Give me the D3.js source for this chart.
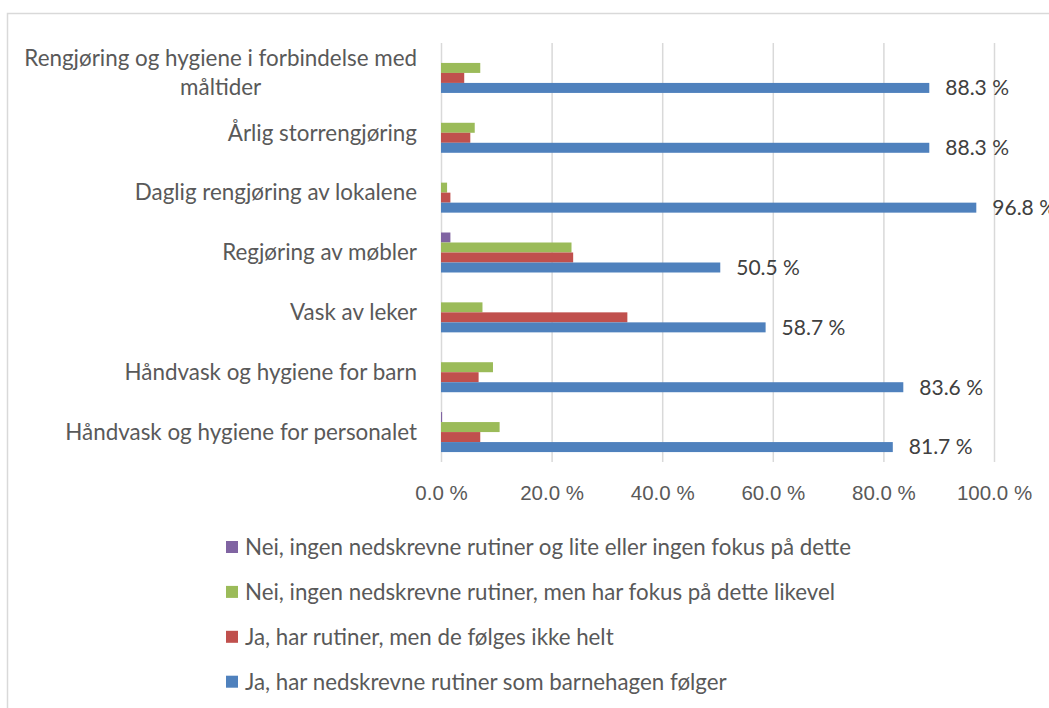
<!DOCTYPE html>
<html>
<head>
<meta charset="utf-8">
<script src="https://cdn.jsdelivr.net/npm/d3@7"></script>
<style>
  body { margin: 0; background: #fff; }
  svg { display: block; font-family: Lato, "Open Sans", sans-serif; }
  .grid line { stroke: #d9d9d9; stroke-width: 1.5; }
  .grid path { display: none; }
  .xaxis path, .xaxis line { display: none; }
  .xaxis text { fill: #595959; font-size: 20.5px; }
  .cat { fill: #595959; font-size: 22.4px; }
  .lbl { fill: #404040; font-size: 21px; }
  .legend text { fill: #595959; font-size: 22.3px; }
</style>
</head>
<body>
<svg width="1049" height="708"></svg>
<script>
var categories = [
  ["Rengjøring og hygiene i forbindelse med", "måltider"],
  ["Årlig storrengjøring"],
  ["Daglig rengjøring av lokalene"],
  ["Regjøring av møbler"],
  ["Vask av leker"],
  ["Håndvask og hygiene for barn"],
  ["Håndvask og hygiene for personalet"]
];

var seriesNames = [
  "Nei, ingen nedskrevne rutiner og lite eller ingen fokus på dette",
  "Nei, ingen nedskrevne rutiner, men har fokus på dette likevel",
  "Ja, har rutiner, men de følges ikke helt",
  "Ja, har nedskrevne rutiner som barnehagen følger"
];

var seriesColors = ["#8064a2", "#9bbb59", "#c0504d", "#4f81bd"];

// percent per category, same order as categories
var ingenFokus   = [0, 0, 0, 1.7, 0, 0, 0.2];
var harFokus     = [7.1, 6.1, 1.1, 23.6, 7.5, 9.4, 10.6];
var ikkeHelt     = [4.2, 5.3, 1.7, 23.9, 33.7, 6.8, 7.1];
var folger       = [88.3, 88.3, 96.8, 50.5, 58.7, 83.6, 81.7];

var xTicks = [0, 20, 40, 60, 80, 100];

var seriesValues = [ingenFokus, harFokus, ikkeHelt, folger];

var svg = d3.select("svg");

// chart frame (runs off the right and bottom edges)
svg.append("rect")
  .attr("x", 7.5).attr("y", 13.5)
  .attr("width", 1200).attr("height", 900)
  .attr("fill", "none")
  .attr("stroke", "#d9d9d9")
  .attr("stroke-width", 1.5);

var plot = { left: 441, right: 994, top: 43, bottom: 462 };

var x = d3.scaleLinear().domain([0, 100]).range([plot.left, plot.right]);

var catKeys = categories.map(function(c) { return c.join(" "); });
var y0 = d3.scaleBand().domain(catKeys).range([plot.top, plot.bottom]);
var groupH = 40;
var y1 = d3.scaleBand()
  .domain(seriesNames)
  .range([(y0.bandwidth() - groupH) / 2, (y0.bandwidth() + groupH) / 2]);

// gridlines
svg.append("g")
  .attr("class", "grid")
  .attr("transform", "translate(0," + plot.bottom + ")")
  .call(d3.axisBottom(x).tickValues(xTicks).tickSize(-(plot.bottom - plot.top)).tickFormat(""));

// x axis labels
svg.append("g")
  .attr("class", "xaxis")
  .attr("transform", "translate(0," + (plot.bottom + 20) + ")")
  .call(d3.axisBottom(x).tickValues(xTicks).tickSize(0)
    .tickFormat(function(d) { return d3.format(".1f")(d) + " %"; }));

// bars
var rows = [];
catKeys.forEach(function(k, i) {
  seriesNames.forEach(function(s, j) {
    rows.push({ cat: k, series: s, value: seriesValues[j][i], color: seriesColors[j] });
  });
});

svg.append("g").selectAll("rect")
  .data(rows)
  .enter().append("rect")
    .attr("x", x(0))
    .attr("y", function(d) { return y0(d.cat) + y1(d.series); })
    .attr("width", function(d) { return x(d.value) - x(0); })
    .attr("height", y1.bandwidth())
    .attr("fill", function(d) { return d.color; });

// data labels for the blue series
svg.append("g").selectAll("text")
  .data(catKeys)
  .enter().append("text")
    .attr("class", "lbl")
    .attr("x", function(d, i) { return x(folger[i]) + 16; })
    .attr("y", function(d) { return y0(d) + y1(seriesNames[3]) + y1.bandwidth() / 2; })
    .attr("dy", "0.35em")
    .text(function(d, i) { return d3.format(".1f")(folger[i]) + " %"; });

// category labels, wrapped lines are centred on the first line
var labelRight = 417, lineGap = 29;
categories.forEach(function(lines, i) {
  var cy = y0(catKeys[i]) + y0.bandwidth() / 2;
  var first = svg.append("text")
    .attr("class", "cat")
    .attr("text-anchor", "end")
    .attr("x", labelRight)
    .attr("y", cy - (lines.length - 1) * lineGap / 2)
    .attr("dy", "0.35em")
    .text(lines[0]);
  var w = first.node().getComputedTextLength();
  lines.slice(1).forEach(function(t, k) {
    svg.append("text")
      .attr("class", "cat")
      .attr("text-anchor", "middle")
      .attr("x", labelRight - w / 2)
      .attr("y", cy - (lines.length - 1) * lineGap / 2 + (k + 1) * lineGap)
      .attr("dy", "0.35em")
      .text(t);
  });
});

// legend
var legend = svg.append("g").attr("class", "legend")
  .selectAll("g")
  .data(seriesNames)
  .enter().append("g")
    .attr("transform", function(d, i) { return "translate(226," + (547 + i * 44.9) + ")"; });

legend.append("rect")
  .attr("x", 0).attr("y", -6)
  .attr("width", 12).attr("height", 12)
  .attr("fill", function(d, i) { return seriesColors[i]; });

legend.append("text")
  .attr("x", 19)
  .attr("dy", "0.35em")
  .text(function(d) { return d; });
</script>
</body>
</html>
